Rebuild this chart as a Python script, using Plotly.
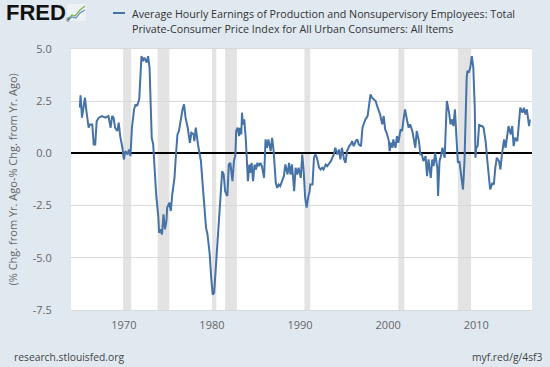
import plotly.graph_objects as go

# ---- data ----
dates = [
 "1965-01","1965-02","1965-04","1965-06","1965-08","1965-10","1965-12","1966-01","1966-03","1966-06",
 "1966-08","1966-10","1966-12","1967-03","1967-07","1967-12","1968-04","1968-07","1968-09","1968-11",
 "1969-01","1969-04","1969-06","1969-08","1969-11","1970-01","1970-03","1970-06","1970-08","1970-10",
 "1970-12","1971-03","1971-05","1971-07","1971-10","1971-11","1972-01","1972-03","1972-05","1972-08",
 "1972-10","1972-12","1973-01","1973-03","1973-05","1973-06","1973-07","1973-09","1973-12","1974-01",
 "1974-03","1974-05","1974-07","1974-09","1974-11","1974-12","1975-03","1975-05","1975-07","1975-10",
 "1975-12","1976-02","1976-04","1976-07","1976-09","1976-11","1977-01","1977-04","1977-06","1977-07",
 "1977-09","1977-12","1978-01","1978-03","1978-06","1978-08","1978-10","1978-12","1979-03","1979-05",
 "1979-07","1979-10","1979-12","1980-02","1980-04","1980-07","1980-09","1980-11","1981-01","1981-03",
 "1981-05","1981-07","1981-10","1981-12","1982-02","1982-05","1982-07","1982-09","1982-10","1982-12",
 "1983-02","1983-03","1983-05","1983-06","1983-07","1983-09","1983-11","1983-12","1984-02","1984-04",
 "1984-05","1984-07","1984-09","1984-11","1985-01","1985-03","1985-05","1985-07","1985-09","1985-12",
 "1986-02","1986-04","1986-06","1986-09","1986-11","1987-01","1987-04","1987-06","1987-08","1987-10",
 "1988-01","1988-03","1988-05","1988-08","1988-10","1988-12","1989-02","1989-05","1989-07","1989-09",
 "1989-11","1990-02","1990-04","1990-06","1990-08","1990-10","1990-12","1991-02","1991-03","1991-06",
 "1991-08","1991-10","1991-12","1992-03","1992-05","1992-07","1992-09","1992-12","1993-02","1993-04",
 "1993-07","1993-09","1993-11","1994-01","1994-04","1994-06","1994-08","1994-10","1995-01","1995-03",
 "1995-05","1995-08","1995-10","1995-12","1996-02","1996-05","1996-07","1996-09","1996-12","1997-02",
 "1997-04","1997-06","1997-09","1997-11","1998-01","1998-03","1998-06","1998-08","1998-10","1998-12",
 "1999-02","1999-05","1999-07","1999-09","1999-11","2000-02","2000-03","2000-05","2000-07","2000-08",
 "2000-11","2001-01","2001-03","2001-06","2001-08","2001-10","2001-12","2002-03","2002-05","2002-07",
 "2002-10","2002-12","2003-02","2003-04","2003-07","2003-09","2003-11","2004-01","2004-04","2004-06",
 "2004-08","2004-11","2005-01","2005-03","2005-05","2005-08","2005-09","2005-11","2006-01","2006-03",
 "2006-06","2006-07","2006-09","2006-12","2007-02","2007-04","2007-06","2007-08","2007-10","2007-12",
 "2008-02","2008-03","2008-05","2008-07","2008-09","2008-10","2008-12","2009-01","2009-03","2009-05",
 "2009-07","2009-09","2009-11","2009-12","2010-01","2010-03","2010-05","2010-07","2010-09","2010-11",
 "2011-02","2011-04","2011-06","2011-08","2011-11","2012-01","2012-03","2012-05","2012-08","2012-10",
 "2012-12","2013-03","2013-05","2013-07","2013-09","2013-12","2014-02","2014-04","2014-06","2014-09",
 "2014-11","2015-01","2015-04","2015-06","2015-08","2015-10","2016-01","2016-02",
]
real_wage_gap = [
 2.19,2.78,1.71,2.35,2.67,2.03,1.63,1.23,1.39,1.39,
 0.43,0.43,1.55,1.71,1.79,1.71,1.79,1.23,1.79,1.71,
 1.23,1.07,1.47,0.83,0.27,-0.29,0.11,-0.05,0.19,-0.13,
 1.23,2.11,2.35,2.27,2.59,3.47,4.66,4.42,4.58,4.35,
 4.66,4.11,2.51,0.75,0.43,-0.21,-1.17,-1.96,-3.08,-3.80,
 -3.64,-3.88,-2.92,-3.64,-3.24,-2.60,-2.36,-2.76,-1.96,-1.17,
 -0.05,0.91,1.07,1.71,2.11,2.35,1.71,1.23,0.83,0.51,
 0.99,0.91,0.59,1.23,0.43,0.11,-0.37,-1.33,-2.76,-3.56,
 -3.88,-4.84,-5.96,-6.76,-6.68,-5.16,-3.88,-2.92,-1.65,-0.85,
 -1.00,-1.81,-2.04,-0.53,-0.45,-1.33,-0.37,-0.05,1.07,1.23,
 0.83,1.23,0.91,1.95,1.39,1.63,0.75,-0.21,-1.33,-0.53,
 -0.93,-0.45,-1.33,-0.53,-0.77,-0.45,-0.61,-0.45,-0.61,-1.17,
 0.67,0.27,0.67,0.11,0.75,0.11,-1.41,-1.65,-1.49,-1.57,
 -1.33,-1.09,-0.53,-1.01,-0.45,-1.01,-0.53,-1.81,-0.69,-1.01,
 -0.69,-1.17,-0.05,-0.85,-2.12,-2.60,-2.12,-1.81,-1.49,-1.49,
 -0.21,-0.05,-0.21,-0.69,-0.77,-0.69,-0.77,-0.53,-0.61,-0.53,
 -0.37,-0.21,-0.05,0.27,-0.05,0.19,-0.29,0.27,-0.29,-0.45,
 0.11,0.35,0.43,0.59,0.35,0.59,0.67,0.43,0.35,1.23,
 1.47,1.63,1.79,2.35,2.83,2.67,2.59,2.51,2.27,2.11,
 1.87,1.39,1.79,1.15,0.99,0.59,0.11,0.51,0.27,0.67,
 0.27,0.83,0.51,1.15,1.07,1.63,2.11,1.55,1.23,1.39,
 1.07,0.67,0.27,1.07,0.59,-0.05,-0.05,-0.37,-0.13,-1.09,
 -0.29,-1.17,-0.29,-0.61,0.03,-0.69,-2.04,-0.37,-0.13,0.27,
 -0.21,0.67,2.51,1.95,1.39,1.63,1.31,2.11,0.43,-0.45,
 -0.37,-0.69,-1.33,-1.73,-0.37,1.63,3.63,3.95,3.87,4.11,
 4.66,4.11,2.19,-0.21,0.27,0.35,1.39,1.31,1.31,1.23,
 0.51,-0.29,-1.25,-1.73,-1.41,-1.49,-0.69,-0.21,-0.37,-0.77,
 -0.05,0.67,0.27,0.83,1.31,0.91,1.31,0.35,0.75,0.59,
 1.23,2.19,1.95,2.19,1.87,2.11,1.31,1.63,
]

recession_start = ["1969-12-01","1973-11-01","1980-01-01","1981-07-01","1990-07-01","2001-03-01","2007-12-01"]
recession_end   = ["1970-11-01","1975-03-01","1980-07-01","1982-11-01","1991-03-01","2001-11-01","2009-06-01"]

y_tick_vals = [-7.5, -5.0, -2.5, 0.0, 2.5, 5.0]
y_tick_text = ["-7.5", "-5.0", "-2.5", "0.0", "2.5", "5.0"]
x_tick_vals = ["1970-01-01", "1980-01-01", "1990-01-01", "2000-01-01", "2010-01-01"]
x_tick_text = ["1970", "1980", "1990", "2000", "2010"]

series_name = ("Average Hourly Earnings of Production and Nonsupervisory Employees: Total",
               "Private-Consumer Price Index for All Urban Consumers: All Items")
y_title = "(% Chg. from Yr. Ago-% Chg. from Yr. Ago)"

# ---- layout geometry (pixels) ----
W, H = 550, 367
L, R, T, B = 71, 18, 49, 57
PW, PH = W - L - R, H - T - B


def px(x):
    return (x - L) / PW


def py(y):
    return (H - B - y) / PH


LINE = "#4572a7"
BG = "#e1e9f0"
FONT = "Open Sans"

fig = go.Figure()
fig.add_trace(go.Scatter(x=dates, y=real_wage_gap, mode="lines",
                         line=dict(color=LINE, width=2), showlegend=False,
                         hoverinfo="skip"))

shapes = []
for s, e in zip(recession_start, recession_end):
    shapes.append(dict(type="rect", xref="x", yref="paper", x0=s, x1=e, y0=0, y1=1,
                       fillcolor="#e3e3e3", line=dict(width=0), layer="below"))
# legend swatch
shapes.append(dict(type="line", xref="paper", yref="paper", x0=px(113), x1=px(125),
                   y0=py(13), y1=py(13), line=dict(color=LINE, width=2)))
# small FRED chart icon
shapes.append(dict(type="rect", xref="paper", yref="paper", x0=px(67), x1=px(86),
                   y0=py(21), y1=py(4), fillcolor="#eef2f4", line=dict(width=0)))
shapes.append(dict(type="path", xref="paper", yref="paper",
                   path="M %f %f L %f %f L %f %f L %f %f L %f %f" % (
                       px(68), py(19), px(72), py(15), px(75), py(16), px(80), py(10), px(85), py(6)),
                   line=dict(color="#7fb24a", width=1.2)))
shapes.append(dict(type="path", xref="paper", yref="paper",
                   path="M %f %f L %f %f L %f %f L %f %f L %f %f" % (
                       px(68), py(20), px(72), py(17), px(76), py(18), px(80), py(13), px(85), py(10)),
                   line=dict(color="#5a8fc8", width=1.2)))

annotations = [
    dict(text="<b>FRED</b>", x=px(4), y=py(13), xref="paper", yref="paper",
         xanchor="left", yanchor="middle", showarrow=False,
         font=dict(family="Liberation Sans", size=22, color="#111111")),
    dict(text="®", x=px(64), y=py(20), xref="paper", yref="paper",
         xanchor="left", yanchor="middle", showarrow=False,
         font=dict(family="Liberation Sans", size=5, color="#111111")),
    dict(text=series_name[0], x=px(130), y=py(14), xref="paper", yref="paper",
         xanchor="left", yanchor="middle", showarrow=False,
         font=dict(family=FONT, size=10.7, color="#333333")),
    dict(text=series_name[1], x=px(130), y=py(29), xref="paper", yref="paper",
         xanchor="left", yanchor="middle", showarrow=False,
         font=dict(family=FONT, size=10.7, color="#333333")),
    dict(text=y_title, x=px(12), y=0.5, xref="paper", yref="paper", textangle=-90,
         xanchor="center", yanchor="middle", showarrow=False,
         font=dict(family=FONT, size=11, color="#666666")),
    dict(text="research.stlouisfed.org", x=px(12), y=py(357), xref="paper", yref="paper",
         xanchor="left", yanchor="middle", showarrow=False,
         font=dict(family=FONT, size=10.3, color="#444444")),
    dict(text="myf.red/g/4sf3", x=px(545), y=py(357), xref="paper", yref="paper",
         xanchor="right", yanchor="middle", showarrow=False,
         font=dict(family=FONT, size=10.3, color="#444444")),
]

fig.update_layout(
    width=W, height=H,
    margin=dict(l=L, r=R, t=T, b=B, autoexpand=False),
    paper_bgcolor=BG, plot_bgcolor="white",
    shapes=shapes, annotations=annotations,
    font=dict(family=FONT, size=11, color="#666666"),
    xaxis=dict(type="date", range=["1964-01-01", "2016-05-01"],
               tickvals=x_tick_vals, ticktext=x_tick_text,
               showgrid=False, zeroline=False,
               showline=True, mirror=True, linecolor="#d9d9d9", linewidth=1,
               ticks="outside", ticklen=5, tickcolor="rgba(0,0,0,0)",
               tickfont=dict(family=FONT, size=11, color="#666666")),
    yaxis=dict(range=[-7.5, 5.0], tickvals=y_tick_vals, ticktext=y_tick_text,
               showgrid=True, gridcolor="#d9d9d9", gridwidth=1,
               zeroline=True, zerolinecolor="#000000", zerolinewidth=2,
               showline=False,
               ticks="outside", ticklen=16, tickcolor="rgba(0,0,0,0)",
               tickfont=dict(family=FONT, size=11, color="#666666")),
)

fig.write_html("out.html", config={"displayModeBar": False},
               post_script="document.body.style.margin='0';document.body.style.background='%s';" % BG)
